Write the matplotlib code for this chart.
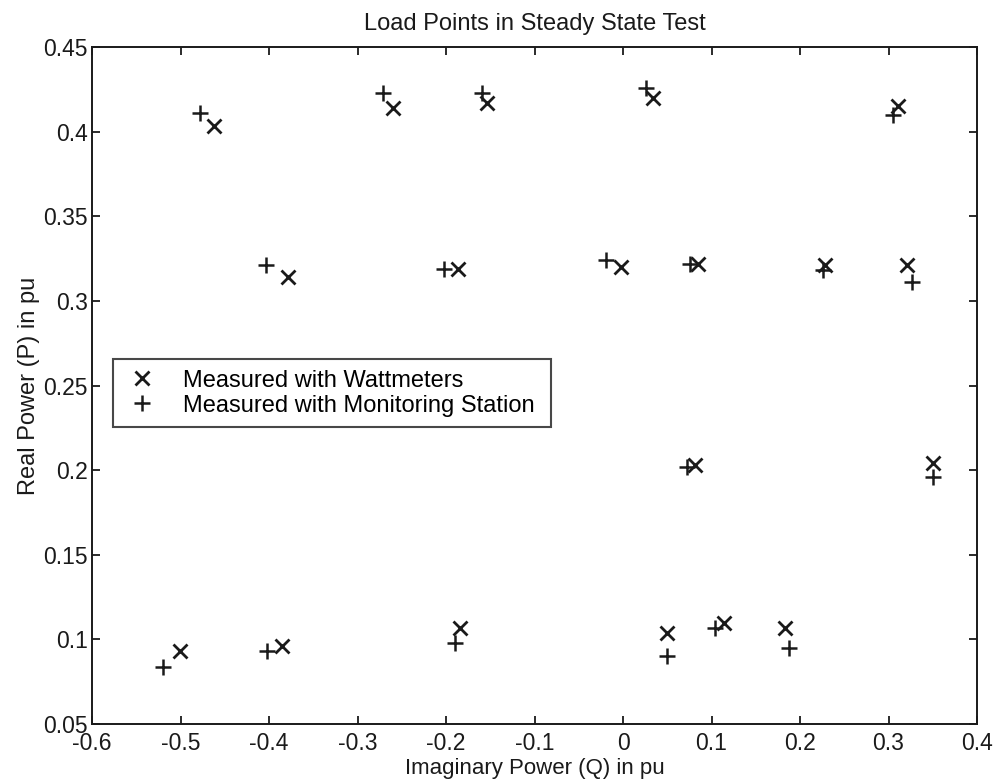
import matplotlib
matplotlib.use('Agg')
import matplotlib.pyplot as plt

plt.rcParams['font.family'] = ['Liberation Sans', 'DejaVu Sans']

# Measured with wattmeters (x markers)
wattQ = [-0.462, -0.260, -0.154, 0.034, 0.311,
         -0.379, -0.186, -0.002, 0.085, 0.228, 0.321,
         0.081, 0.350,
         -0.501, -0.385, -0.184, 0.050, 0.114, 0.183]
wattP = [0.403, 0.414, 0.417, 0.420, 0.415,
         0.314, 0.319, 0.320, 0.322, 0.321, 0.321,
         0.203, 0.204,
         0.093, 0.096, 0.107, 0.104, 0.110, 0.107]

# Measured with monitoring station (+ markers)
monQ = [-0.478, -0.271, -0.159, 0.026, 0.305,
        -0.403, -0.202, -0.019, 0.076, 0.226, 0.327,
        0.072, 0.350,
        -0.520, -0.402, -0.190, 0.050, 0.104, 0.188]
monP = [0.411, 0.423, 0.423, 0.426, 0.410,
        0.321, 0.319, 0.324, 0.322, 0.318, 0.311,
        0.202, 0.196,
        0.084, 0.093, 0.098, 0.090, 0.107, 0.095]

xTicks = [-0.6, -0.5, -0.4, -0.3, -0.2, -0.1, 0, 0.1, 0.2, 0.3, 0.4]
xTickLabels = ['-0.6', '-0.5', '-0.4', '-0.3', '-0.2', '-0.1', '0', '0.1', '0.2', '0.3', '0.4']
yTicks = [0.05, 0.1, 0.15, 0.2, 0.25, 0.3, 0.35, 0.4, 0.45]
yTickLabels = ['0.05', '0.1', '0.15', '0.2', '0.25', '0.3', '0.35', '0.4', '0.45']

fig = plt.figure(figsize=(10, 7.82), dpi=100)
ax = fig.add_axes([0.092, 0.074, 0.885, 0.866])

ink = '#1a1a1a'
ax.plot(wattQ, wattP, linestyle='none', marker='x', markersize=10,
        markeredgewidth=2.0, color=ink, label='Measured with Wattmeters')
ax.plot(monQ, monP, linestyle='none', marker='+', markersize=11,
        markeredgewidth=1.8, color=ink, label='Measured with Monitoring Station')

ax.set_xlim(-0.6, 0.4)
ax.set_ylim(0.05, 0.45)
ax.set_xticks(xTicks)
ax.set_xticklabels(xTickLabels)
ax.set_yticks(yTicks)
ax.set_yticklabels(yTickLabels)

ax.tick_params(direction='in', length=6, width=1.3, top=True, right=True,
               labelsize=16.5, colors=ink)
ax.tick_params(axis='x', pad=6)
ax.tick_params(axis='y', pad=3)
for spine in ax.spines.values():
    spine.set_linewidth(1.4)
    spine.set_color(ink)

ax.set_title('Load Points in Steady State Test', fontsize=17, pad=12, color=ink)
ax.set_xlabel('Imaginary Power (Q) in pu', fontsize=16, labelpad=2, color=ink)
ax.set_ylabel('Real Power (P) in pu', fontsize=17, labelpad=2, color=ink)

leg = ax.legend(loc='upper left', bbox_to_anchor=(0.024, 0.433, 0.495, 0.106),
                mode='expand', fancybox=False, shadow=False, frameon=True,
                fontsize=17, handletextpad=1.0, labelspacing=0.12,
                borderpad=0.45, handlelength=1.5, borderaxespad=0)
leg.get_frame().set_edgecolor(ink)
leg.get_frame().set_linewidth(1.5)

fig.savefig('out.png', dpi=100)
